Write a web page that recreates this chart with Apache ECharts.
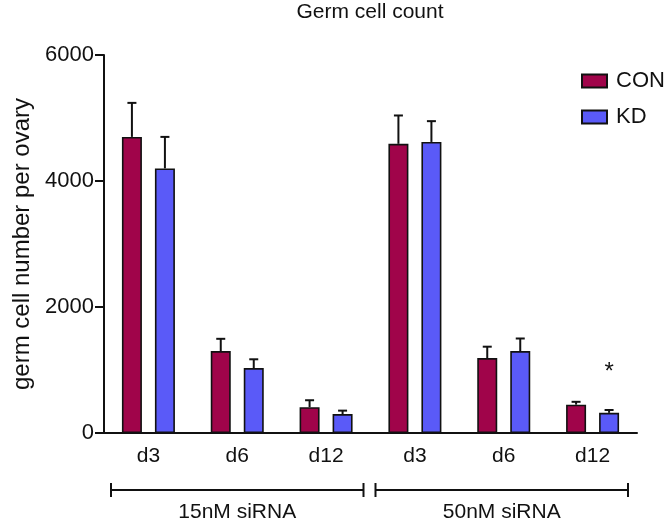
<!DOCTYPE html>
<html>
<head>
<meta charset="utf-8">
<script src="https://cdn.jsdelivr.net/npm/echarts@6/dist/echarts.min.js"></script>
<style>html,body{margin:0;padding:0;background:#fff;}#c{width:666px;height:523px;}</style>
</head>
<body>
<div id="c"></div>
<script>
const categories = ['d3', 'd6', 'd12', 'd3', 'd6', 'd12'];
const groups = ['15nM siRNA', '50nM siRNA'];
const seriesNames = ['CON', 'KD'];
const conMean = [4700, 1300, 410, 4590, 1190, 450];
const conErr = [540, 195, 110, 450, 180, 45];
const kdMean = [4200, 1030, 300, 4620, 1300, 320];
const kdErr = [500, 140, 55, 330, 200, 45];
const kdSig = ['', '', '', '', '', '*'];
const yTicks = [0, 2000, 4000, 6000];

const FONT = '"Liberation Sans", Arial, sans-serif';
const COLORS = ['#A0044A', '#5A5AF8'];
const BAR_W = 20;
const BAR_GAP = 13;
const OFF = (BAR_W + BAR_GAP) / 2;

const chart = echarts.init(document.getElementById('c'));

function errSeries(means, errs, sign, sig) {
  return {
    type: 'custom',
    silent: true,
    z: 5,
    data: means.map((m, i) => [i, m, errs[i]]),
    renderItem: function (params, api) {
      const i = api.value(0);
      const m = api.value(1);
      const e = api.value(2);
      const base = api.coord([i, m]);
      const top = api.coord([i, m + e]);
      const x = base[0] + sign * OFF;
      const children = [
        { type: 'line', shape: { x1: x, y1: base[1], x2: x, y2: top[1] }, style: { stroke: '#111', lineWidth: 2 } },
        { type: 'line', shape: { x1: x - 4.5, y1: top[1], x2: x + 4.5, y2: top[1] }, style: { stroke: '#111', lineWidth: 2 } }
      ];
      if (sig && sig[params.dataIndex]) {
        children.push({ type: 'text', style: { text: sig[params.dataIndex], x: x, y: top[1] - 38, align: 'center', verticalAlign: 'middle', fontSize: 24, fontFamily: FONT, fill: '#111' } });
      }
      return { type: 'group', children: children };
    }
  };
}

chart.setOption({
  animation: false,
  title: {
    text: 'Germ cell count',
    left: 365, top: -3, textAlign: 'center',
    textStyle: { fontSize: 21, fontWeight: 'normal', color: '#111', fontFamily: FONT }
  },
  legend: {
    orient: 'vertical', left: 576, top: 65,
    itemWidth: 25, itemHeight: 13, itemGap: 14,
    icon: 'rect',
    textStyle: { fontSize: 22, color: '#111', fontFamily: FONT, padding: [0, 0, 0, 4] },
    data: seriesNames
  },
  grid: { left: 104, top: 55, width: 533, bottom: 90, containLabel: false },
  xAxis: {
    type: 'category', data: categories,
    axisLine: { lineStyle: { color: '#111', width: 2 } },
    axisTick: { alignWithLabel: true, length: 7, lineStyle: { color: '#111', width: 2 } },
    axisLabel: { fontSize: 21, color: '#111', fontFamily: FONT, margin: 13 }
  },
  yAxis: {
    type: 'value', min: yTicks[0], max: yTicks[yTicks.length - 1], interval: 2000,
    name: 'germ cell number per ovary', nameLocation: 'middle', nameGap: 67,
    nameTextStyle: { fontSize: 24, color: '#111', fontFamily: FONT },
    axisLine: { show: true, lineStyle: { color: '#111', width: 2 } },
    axisTick: { show: true, length: 9, lineStyle: { color: '#111', width: 2 } },
    axisLabel: { fontSize: 22, color: '#111', fontFamily: FONT, margin: 10, formatter: function (v) { return String(v); } },
    splitLine: { show: false }
  },
  series: [
    { name: seriesNames[0], type: 'bar', data: conMean, barWidth: BAR_W, barGap: (BAR_GAP / BAR_W * 100) + '%',
      itemStyle: { color: COLORS[0], borderColor: '#111', borderWidth: 1.6 } },
    { name: seriesNames[1], type: 'bar', data: kdMean, barWidth: BAR_W,
      itemStyle: { color: COLORS[1], borderColor: '#111', borderWidth: 1.6 } },
    errSeries(conMean, conErr, -1, null),
    errSeries(kdMean, kdErr, 1, kdSig)
  ]
});

// group brackets below the category labels
const c0 = chart.convertToPixel({ xAxisIndex: 0 }, 0);
const c1 = chart.convertToPixel({ xAxisIndex: 0 }, 1);
const band = c1 - c0;
const axisY = chart.convertToPixel({ yAxisIndex: 0 }, 0);
const by = axisY + 57;
const els = [];
groups.forEach(function (g, gi) {
  const first = gi * 3, last = gi * 3 + 2;
  const x1 = chart.convertToPixel({ xAxisIndex: 0 }, first) - band / 2 + (gi === 0 ? 7 : 5);
  const x2 = chart.convertToPixel({ xAxisIndex: 0 }, last) + band / 2 - (gi === 0 ? 7 : 9);
  const lw = gi === 0 ? 2.2 : 1.8;
  els.push({ type: 'line', shape: { x1: x1, y1: by, x2: x2, y2: by }, style: { stroke: '#111', lineWidth: lw } });
  els.push({ type: 'line', shape: { x1: x1, y1: by - 7, x2: x1, y2: by + 7 }, style: { stroke: '#111', lineWidth: 2 } });
  els.push({ type: 'line', shape: { x1: x2, y1: by - 7, x2: x2, y2: by + 7 }, style: { stroke: '#111', lineWidth: 2 } });
  els.push({ type: 'text', style: { text: g, x: (x1 + x2) / 2, y: by + 22, align: 'center', verticalAlign: 'middle', fontSize: 21, fontFamily: FONT, fill: '#111' } });
});
chart.setOption({ graphic: els });
</script>
</body>
</html>
